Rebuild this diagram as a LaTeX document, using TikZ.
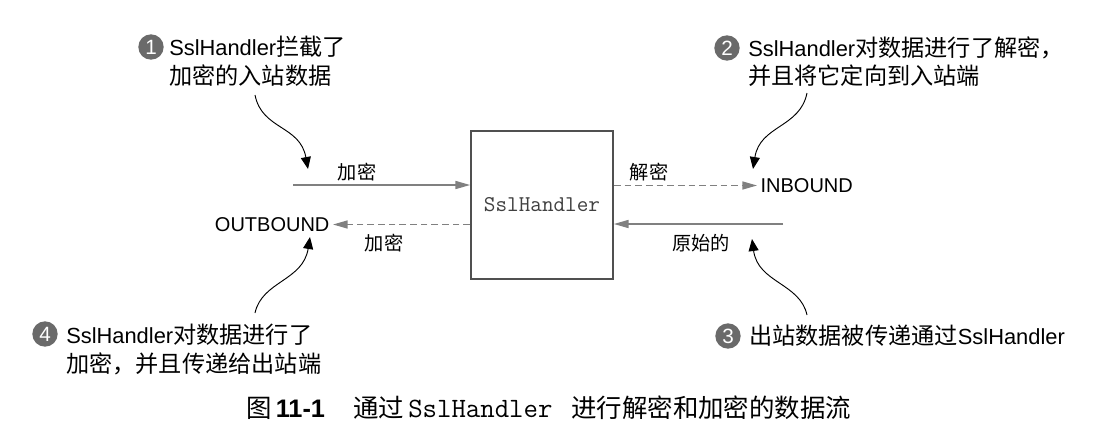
\documentclass[tikz,border=0pt]{standalone}
\usepackage{fontspec}
\setmainfont{Liberation Sans}
\newfontfamily\cjk{Noto Sans CJK SC}[Scale=1.06]
\newcommand\mono{\ttfamily}
\newcommand\zh[1]{{\cjk #1}}
\usetikzlibrary{arrows.meta}
\definecolor{arrowgray}{HTML}{808080}
\definecolor{boxgray}{HTML}{505050}
\definecolor{numgray}{HTML}{6A6A6A}
\begin{document}
\begin{tikzpicture}[x=0.75pt,y=-0.75pt,
  grayarrow/.style={draw=arrowgray,line width=1.1pt,-{Triangle[length=11pt,width=6pt]}},
  dasharrow/.style={grayarrow,dash pattern=on 5pt off 3pt},
  callarrow/.style={draw=black,line width=0.7pt,-{Triangle[length=9pt,width=7.5pt]}},
  numcirc/.style={circle,fill=numgray,text=white,minimum size=19pt,inner sep=0pt,font=\fontsize{15.5}{15.5}\selectfont},
  calltext/.style={anchor=base west,inner sep=0pt,font=\fontsize{16.4}{20}\selectfont},
  flowlbl/.style={inner sep=0pt,font=\fontsize{13.6}{16}\selectfont\cjk},
  dirlbl/.style={inner ysep=0pt,inner xsep=2.5pt,font=\fontsize{15}{18}\selectfont},
  captext/.style={anchor=base west,inner sep=0pt}]
\path[fill=white,use as bounding box] (0,0) rectangle (1103,447);

% central box
\node[draw=boxgray,line width=1.3pt,minimum width=106.5pt,minimum height=111pt,inner sep=0pt,
      text=black!75,font=\fontsize{16.9}{18}\mono] (box) at (542,205) {SslHandler};

% direction labels
\node[dirlbl,anchor=west] (inb) at (757,185.5) {INBOUND};
\node[dirlbl,anchor=east] (outb) at (333,224.5) {OUTBOUND};

% flow arrows
\coordinate (inStart) at (293,185);
\coordinate (outStart) at (783,224);
\draw[grayarrow] (inStart) -- (inStart -| box.west);
\draw[dasharrow] (box.east |- inb.west) -- (inb.west);
\draw[grayarrow] (outStart) -- (outStart -| box.east);
\draw[dasharrow] (box.west |- outb.east) -- (outb.east);

% flow labels
\node[flowlbl] (l1) at (357,172) {加密};
\node[flowlbl] (l2) at (649,172) {解密};
\node[flowlbl] (l3) at (384,243) {加密};
\node[flowlbl] (l4) at (701,243) {原始的};

% callouts
\node[numcirc] (n1) at (151,47) {1};
\node[calltext] (c1a) at (169,55) {SslHandler\zh{拦截了}};
\node[calltext] (c1b) at (169,84) {\zh{加密的入站数据}};

\node[numcirc] (n2) at (727,48) {2};
\node[calltext] (c2a) at (748,56) {SslHandler\zh{对数据进行了解密，}};
\node[calltext] (c2b) at (748,84) {\zh{并且将它定向到入站端}};

\node[numcirc] (n3) at (728,336) {3};
\node[calltext] (c3a) at (749,344) {\zh{出站数据被传递通过}SslHandler};

\node[numcirc] (n4) at (45,334) {4};
\node[calltext] (c4a) at (66,343) {SslHandler\zh{对数据进行了}};
\node[calltext] (c4b) at (66,372) {\zh{加密，并且传递给出站端}};

% callout arrows
\coordinate (k1s) at (255,95);  \coordinate (k1e) at (308,169);
\coordinate (k2s) at (807,93);  \coordinate (k2e) at (753,169);
\coordinate (k3s) at (807,315); \coordinate (k3e) at (752,239);
\coordinate (k4s) at (255,313); \coordinate (k4e) at (310,237);
\draw[callarrow] (k1s) .. controls (262,130) and (300,125) .. (k1e);
\draw[callarrow] (k2s) .. controls (800,128) and (760,125) .. (k2e);
\draw[callarrow] (k3s) .. controls (800,283) and (758,283) .. (k3e);
\draw[callarrow] (k4s) .. controls (262,281) and (303,281) .. (k4e);

% caption
\node[captext,font=\fontsize{18}{20}\cjk] (cap0) at (246,417) {图};
\node[captext,font=\fontsize{19}{20}\bfseries] (cap1) at (275.5,417) {11-1};
\node[captext,font=\fontsize{18}{20}\cjk] (cap2) at (353,417) {通过};
\node[captext,font=\fontsize{21}{22}\mono] (cap3) at (408,417) {SslHandler};
\node[captext,font=\fontsize{18}{20}\cjk] (cap4) at (571,417) {进行解密和加密的数据流};
\end{tikzpicture}
\end{document}
